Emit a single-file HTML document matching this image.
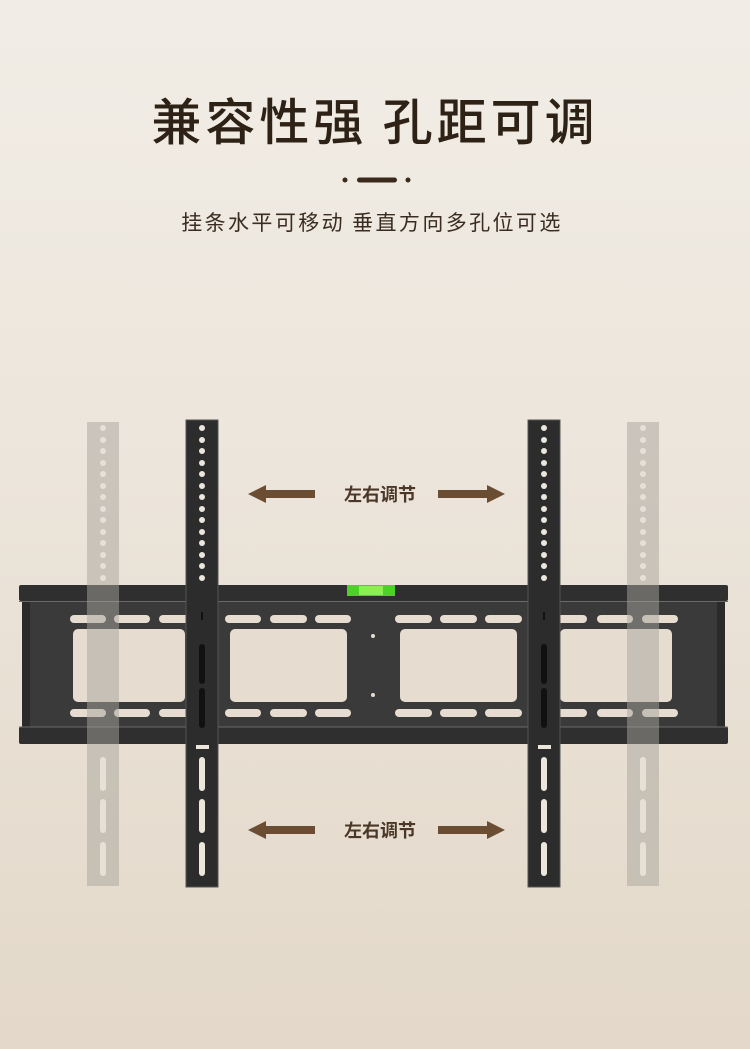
<!DOCTYPE html>
<html><head><meta charset="utf-8"><style>
html,body{margin:0;padding:0;width:750px;height:1049px;overflow:hidden;}
body{background:linear-gradient(180deg,#f1ede6 0%,#ece5db 45%,#e3d8c9 100%);font-family:"Liberation Sans","Noto Sans CJK SC",sans-serif;}
svg{display:block;}
</style></head><body>
<svg width="750" height="1049" viewBox="0 0 750 1049" xmlns="http://www.w3.org/2000/svg" style="position:absolute;left:0;top:0">
<defs>
<g id="dots" fill="#ece6dd">
<circle cx="0" cy="428" r="3"/><circle cx="0" cy="440" r="3"/><circle cx="0" cy="451" r="3"/><circle cx="0" cy="463" r="3"/><circle cx="0" cy="474" r="3"/><circle cx="0" cy="486" r="3"/><circle cx="0" cy="497" r="3"/><circle cx="0" cy="509" r="3"/><circle cx="0" cy="520" r="3"/><circle cx="0" cy="532" r="3"/><circle cx="0" cy="543" r="3"/><circle cx="0" cy="555" r="3"/><circle cx="0" cy="566" r="3"/><circle cx="0" cy="578" r="3"/>
</g>
<g id="lslots" fill="#ece6dd">
<rect x="-3" y="757" width="6" height="34" rx="3"/><rect x="-3" y="799" width="6" height="34" rx="3"/><rect x="-3" y="842" width="6" height="34" rx="3"/>
</g>
</defs>
<text x="375" y="140" text-anchor="middle" font-size="50" font-weight="500" fill="#2e2115" font-family="'Noto Sans CJK SC',sans-serif" letter-spacing="4">兼容性强 孔距可调</text>
<circle cx="345" cy="180" r="2.5" fill="#3a2a1b"/><rect x="357" y="177.5" width="40" height="5" rx="2.5" fill="#3a2a1b"/><circle cx="408" cy="180" r="2.5" fill="#3a2a1b"/>
<text x="372" y="230" text-anchor="middle" font-size="21" fill="#3a2c20" font-family="'Noto Sans CJK SC',sans-serif" letter-spacing="2.4">挂条水平可移动  垂直方向多孔位可选</text>

<g fill="#6b4d33">
<polygon points="248,494 266,485 266,490 315,490 315,498 266,498 266,503"/>
<polygon points="505,494 487,485 487,490 438,490 438,498 487,498 487,503"/>
<polygon points="248,830 266,821 266,826 315,826 315,834 266,834 266,839"/>
<polygon points="505,830 487,821 487,826 438,826 438,834 487,834 487,839"/>
</g>
<text x="380" y="501" text-anchor="middle" font-size="18" font-weight="bold" fill="#4a3727" font-family="'Noto Sans CJK SC',sans-serif">左右调节</text>
<text x="380" y="837" text-anchor="middle" font-size="18" font-weight="bold" fill="#4a3727" font-family="'Noto Sans CJK SC',sans-serif">左右调节</text>

<g>
<rect x="19" y="585" width="709" height="16" rx="2" fill="#2f2f30"/>
<rect x="19" y="727" width="709" height="17" rx="2" fill="#2f2f30"/>
<rect x="22" y="601" width="703" height="126" fill="#3a3a3b"/>
<rect x="22" y="601" width="8" height="126" fill="#2a2a2b"/>
<rect x="717" y="601" width="8" height="126" fill="#2a2a2b"/>
<line x1="19" y1="601.5" x2="728" y2="601.5" stroke="#6a6a6a" stroke-width="1"/>
<line x1="19" y1="727" x2="728" y2="727" stroke="#6a6a6a" stroke-width="1"/>
<g fill="#e6ddd0">
<rect x="73" y="629" width="112" height="73" rx="5"/>
<rect x="230" y="629" width="117" height="73" rx="5"/>
<rect x="400" y="629" width="117" height="73" rx="5"/>
<rect x="560" y="629" width="112" height="73" rx="5"/>
<g id="sl">
<rect x="70" y="615" width="36" height="8" rx="4"/><rect x="114" y="615" width="36" height="8" rx="4"/><rect x="159" y="615" width="36" height="8" rx="4"/>
<rect x="225" y="615" width="36" height="8" rx="4"/><rect x="270" y="615" width="37" height="8" rx="4"/><rect x="315" y="615" width="36" height="8" rx="4"/>
<rect x="395" y="615" width="37" height="8" rx="4"/><rect x="440" y="615" width="37" height="8" rx="4"/><rect x="485" y="615" width="37" height="8" rx="4"/>
<rect x="551" y="615" width="36" height="8" rx="4"/><rect x="597" y="615" width="36" height="8" rx="4"/><rect x="642" y="615" width="36" height="8" rx="4"/>
</g>
<use href="#sl" y="94"/>
<circle cx="373" cy="636" r="2"/><circle cx="373" cy="695" r="2"/>
</g>
<rect x="347" y="585" width="48" height="11" fill="#4fcf2a"/>
<rect x="359" y="586" width="24" height="9" fill="#8aef55"/>
</g>

<rect x="186" y="420" width="32" height="467" fill="#2c2c2d" stroke="#555" stroke-width="1"/>
<rect x="528" y="420" width="32" height="467" fill="#2c2c2d" stroke="#555" stroke-width="1"/>
<use href="#dots" x="202"/><use href="#dots" x="544"/>
<g fill="#111">
<rect x="199" y="644" width="6" height="40" rx="3"/><rect x="199" y="688" width="6" height="40" rx="3"/>
<rect x="541" y="644" width="6" height="40" rx="3"/><rect x="541" y="688" width="6" height="40" rx="3"/>
<rect x="201" y="612" width="2" height="8"/><rect x="543" y="612" width="2" height="8"/>
</g>
<g fill="#ece6dd">
<rect x="196" y="745" width="13" height="4"/><rect x="538" y="745" width="13" height="4"/>
</g>
<use href="#lslots" x="202"/><use href="#lslots" x="544"/>

<g opacity="0.5">
<rect x="87" y="422" width="32" height="464" fill="#a8a39c"/>
<rect x="627" y="422" width="32" height="464" fill="#a8a39c"/>
</g>
<g opacity="0.85">
<use href="#dots" x="103"/><use href="#dots" x="643"/>
<use href="#lslots" x="103"/><use href="#lslots" x="643"/>
</g>
</svg>
</body></html>
